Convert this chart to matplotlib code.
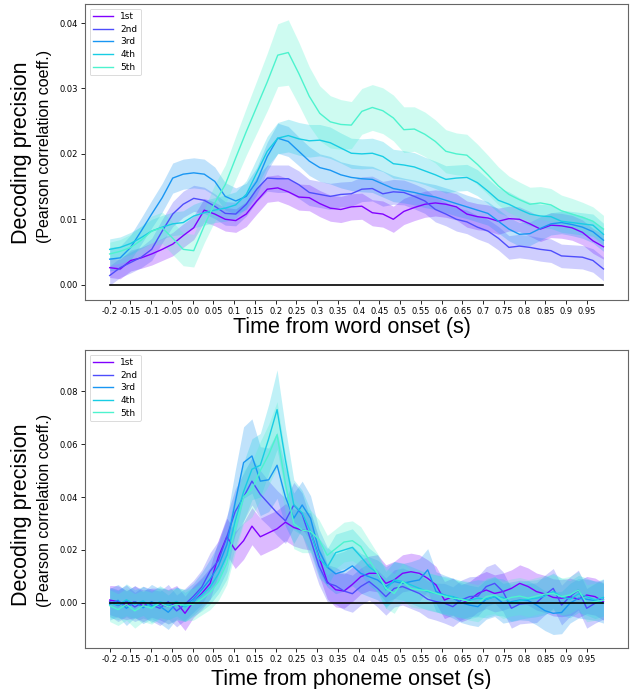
import numpy as np
import matplotlib.pyplot as plt

# condition labels and colours (rainbow colormap, first 40 %)
labels = ['1st', '2nd', '3rd', '4th', '5th']
colors = [plt.cm.rainbow(v) for v in [0.0, 0.1, 0.2, 0.3, 0.4]]

# ---- word onset panel (values x 1e-3), 48 samples from -0.2 to 0.99 s
word_mean = [
    [2.6, 2.4, 3.7, 4.1, 4.7, 5.4, 6.2, 7.5, 8.7, 11.4, 10.8, 10.0, 9.8, 10.8, 12.8, 14.6,
     14.8, 14.2, 13.4, 13.3, 12.4, 11.7, 11.5, 11.9, 12.0, 11.0, 10.8, 10.0, 11.2, 11.8, 12.3, 12.5,
     12.3, 11.9, 10.8, 10.4, 10.2, 9.7, 10.1, 10.0, 9.3, 8.5, 9.1, 9.0, 8.7, 8.0, 6.7, 5.8],
    [1.4, 2.6, 3.4, 4.2, 5.4, 8.2, 10.8, 12.3, 13.2, 12.9, 12.0, 10.9, 10.8, 12.3, 14.6, 16.3,
     16.2, 16.2, 15.3, 14.1, 13.8, 13.5, 13.8, 13.9, 14.6, 14.7, 13.9, 14.2, 14.1, 13.5, 12.8, 11.5,
     10.8, 10.0, 9.6, 8.8, 8.2, 7.1, 5.7, 5.9, 5.7, 5.4, 5.2, 4.4, 4.3, 4.2, 3.7, 2.4],
    [3.9, 4.1, 5.7, 8.2, 10.8, 13.3, 16.3, 16.9, 17.1, 16.9, 15.8, 13.5, 12.8, 13.5, 15.8, 19.6,
     22.4, 21.9, 20.4, 18.9, 17.9, 17.5, 16.8, 16.4, 16.2, 16.1, 15.4, 14.7, 14.4, 14.1, 13.7, 13.4,
     12.9, 12.4, 11.9, 11.4, 10.9, 9.7, 8.5, 7.7, 7.8, 8.6, 9.3, 9.5, 9.2, 8.8, 8.1, 6.8],
    [5.4, 5.7, 6.3, 7.2, 8.2, 8.8, 9.3, 9.5, 10.5, 11.0, 11.4, 11.7, 12.2, 13.8, 17.1, 20.4,
     22.4, 22.8, 22.3, 22.0, 22.1, 21.7, 20.9, 20.1, 20.0, 20.1, 19.6, 18.5, 18.3, 18.0, 17.4, 16.8,
     16.1, 16.3, 16.4, 15.6, 14.3, 12.9, 12.3, 11.5, 10.8, 10.5, 10.4, 9.7, 9.5, 9.3, 9.1, 7.7],
    [4.7, 5.1, 5.7, 6.8, 8.2, 8.7, 7.1, 5.4, 5.2, 9.0, 12.5, 15.3, 19.4, 23.4, 27.2, 31.0,
     35.1, 35.5, 32.3, 28.8, 26.2, 24.9, 24.5, 24.4, 26.5, 27.1, 26.6, 25.5, 23.7, 23.8, 23.0, 21.9,
     20.4, 20.0, 19.8, 18.4, 16.8, 15.1, 13.8, 13.0, 12.3, 12.5, 12.2, 11.3, 10.8, 10.3, 9.7, 8.5],
]
word_sem = [
    [1.5, 1.5, 1.6, 1.6, 1.7, 1.7, 1.8, 1.8, 1.8, 1.8, 1.8, 1.8, 1.8, 1.9, 2.0, 2.0,
     2.0, 2.0, 2.0, 2.0, 2.0, 2.0, 2.0, 2.0, 2.0, 2.0, 2.0, 2.0, 2.0, 2.0, 2.0, 2.0,
     2.0, 2.0, 2.0, 2.0, 2.0, 2.0, 1.9, 1.9, 1.9, 1.9, 1.9, 1.9, 1.9, 1.9, 1.9, 1.9],
    [1.5, 1.5, 1.6, 1.6, 1.7, 1.8, 1.9, 2.0, 2.0, 2.0, 1.9, 1.8, 1.8, 1.8, 1.9, 2.0,
     2.1, 2.1, 2.1, 2.0, 2.0, 2.0, 1.9, 1.9, 1.9, 1.9, 1.9, 1.9, 1.9, 1.9, 1.9, 1.9,
     1.8, 1.8, 1.8, 1.8, 1.8, 1.8, 1.8, 1.8, 1.8, 1.8, 1.8, 1.8, 1.8, 1.8, 1.8, 1.8],
    [1.8, 1.8, 1.9, 2.0, 2.1, 2.2, 2.3, 2.3, 2.3, 2.3, 2.2, 2.1, 2.0, 2.0, 2.1, 2.2,
     2.3, 2.3, 2.2, 2.2, 2.1, 2.1, 2.0, 2.0, 2.0, 2.0, 2.0, 2.0, 1.9, 1.9, 1.9, 1.9,
     1.9, 1.9, 1.8, 1.8, 1.8, 1.8, 1.8, 1.8, 1.8, 1.8, 1.7, 1.7, 1.7, 1.7, 1.7, 1.7],
    [1.6, 1.6, 1.7, 1.7, 1.8, 1.8, 1.8, 1.8, 1.8, 1.9, 1.9, 2.0, 2.0, 2.1, 2.2, 2.3,
     2.4, 2.5, 2.5, 2.5, 2.4, 2.4, 2.3, 2.3, 2.3, 2.3, 2.3, 2.2, 2.2, 2.2, 2.1, 2.1,
     2.1, 2.0, 2.0, 2.0, 1.9, 1.9, 1.9, 1.8, 1.8, 1.8, 1.8, 1.7, 1.7, 1.7, 1.7, 1.7],
    [1.8, 1.8, 2.0, 2.2, 2.3, 2.4, 2.5, 2.5, 2.5, 2.6, 2.8, 3.0, 3.3, 3.6, 4.0, 4.4,
     4.8, 5.0, 4.8, 4.5, 4.2, 4.0, 3.8, 3.6, 3.5, 3.5, 3.5, 3.5, 3.5, 3.4, 3.4, 3.3,
     3.3, 3.2, 3.2, 3.1, 3.0, 2.9, 2.8, 2.7, 2.6, 2.5, 2.5, 2.4, 2.4, 2.3, 2.2, 2.1],
]

# ---- phoneme onset panel (values x 1e-3), 60 samples from -0.2 to 0.99 s
phon_mean = [
    [1.1, 0.5, -0.8, 0.5, -1.1, 0.1, -0.4, -1.4, 0.1, -3.9,
     0.5, 3.6, 7.4, 17.5, 25.0, 20.0, 23.5, 29.0, 25.0, 26.5,
     28.0, 30.5, 28.5, 27.5, 27.0, 17.5, 8.0, 5.0, 4.5, 7.0,
     9.9, 11.2, 11.2, 7.4, 8.7, 11.2, 11.8, 11.2, 9.3, 6.8,
     1.1, 2.4, -0.1, 1.1, 3.6, 4.9, 3.6, 4.3, 5.5, 7.4,
     6.2, 4.3, 3.4, 2.1, 1.8, 2.4, 1.4, 3.0, 2.4, 0.5],
    [0.5, -1.0, 0.8, -1.5, 0.3, -0.8, -2.0, 0.5, -3.0, -0.5,
     2.5, 6.0, 12.0, 16.0, 25.0, 34.5, 40.0, 46.0, 41.0, 37.5,
     34.0, 31.0, 37.0, 33.5, 24.0, 14.0, 7.5, 6.5, 4.5, 3.5,
     6.2, 8.1, 5.5, 2.4, 5.5, 6.2, 4.9, 3.6, 1.4, 0.5,
     -0.1, -1.4, 1.1, 2.4, 2.6, 6.2, 7.4, 4.3, -2.0, -0.4,
     -0.1, 0.1, 3.0, 5.5, -0.8, 2.4, 4.9, -2.0, -0.1, 1.4],
    [-0.5, 1.0, -2.0, 0.5, -1.8, 0.5, -1.2, -3.5, 0.0, -1.0,
     1.5, 5.0, 9.0, 14.0, 22.0, 38.0, 53.0, 55.5, 46.0, 46.5,
     52.0, 40.0, 32.0, 37.0, 32.0, 20.0, 13.5, 11.0, 12.0, 14.0,
     11.2, 9.9, 8.7, 6.2, 8.1, 7.4, 8.1, 8.7, 12.5, 4.3,
     3.0, 1.8, 0.1, -0.8, -1.4, 1.4, 2.4, -0.1, 0.5, 1.1,
     0.9, -0.8, -2.9, -3.9, -3.6, -0.1, 1.8, 1.4, 0.9, -0.1],
    [0.0, -0.8, 1.2, -0.5, 0.8, -1.5, 0.5, -0.8, 0.6, -1.5,
     0.5, 3.0, 6.0, 11.0, 18.0, 31.0, 42.0, 50.5, 52.0, 62.0,
     73.0, 54.0, 37.0, 34.0, 27.0, 17.0, 13.5, 19.0, 20.0, 21.0,
     17.5, 13.7, 11.2, 4.9, 8.7, 8.1, 6.8, 5.5, 4.3, 3.6,
     3.0, 2.4, 1.4, 1.1, 1.8, 1.4, 2.4, 2.1, 0.1, 0.9,
     1.4, 1.8, 2.6, 4.3, 2.4, 1.4, 3.4, 2.4, 1.1, 2.1],
    [-1.0, -2.5, -0.5, -3.0, -1.0, -2.0, 0.0, -1.5, -0.5, -0.8,
     -0.5, 1.5, 4.0, 8.0, 15.0, 28.0, 40.0, 43.0, 50.0, 56.0,
     63.5, 45.0, 30.0, 27.5, 27.0, 24.0, 18.0, 20.5, 23.0, 23.5,
     21.3, 16.2, 11.2, 5.5, 3.6, 8.1, 5.5, 4.9, 4.7, 3.6,
     2.6, 1.8, 1.4, 0.5, -0.1, 2.4, 3.0, 1.1, 2.1, 2.6,
     1.8, 2.6, 3.4, 3.6, 2.4, 3.0, 4.9, -0.1, 0.5, 1.1],
]
phon_sem = [
    [5.5, 6.0, 5.5, 6.0, 6.0, 5.5, 6.0, 6.5, 6.5, 6.5,
     6.0, 6.0, 6.0, 6.5, 7.0, 7.0, 7.0, 7.0, 7.0, 7.0,
     7.0, 7.0, 7.0, 7.0, 7.0, 7.0, 6.5, 6.5, 6.5, 6.5,
     6.5, 6.5, 7.0, 7.0, 7.0, 7.0, 7.0, 7.0, 7.0, 7.0,
     7.0, 7.0, 7.0, 7.0, 7.0, 7.0, 7.0, 7.0, 7.0, 7.0,
     7.0, 7.0, 7.0, 7.0, 7.0, 7.0, 7.0, 7.0, 7.0, 7.0],
    [5.5, 6.0, 6.0, 5.5, 6.0, 6.0, 6.5, 6.5, 6.0, 6.0,
     6.0, 6.5, 7.0, 7.5, 8.0, 8.5, 9.0, 9.0, 9.0, 8.5,
     8.5, 8.5, 8.5, 8.0, 7.5, 7.0, 7.0, 7.0, 7.0, 7.0,
     7.0, 7.0, 7.0, 7.0, 7.0, 7.0, 7.0, 7.0, 7.0, 7.0,
     7.5, 7.5, 7.5, 7.5, 7.5, 7.5, 7.5, 7.5, 7.5, 7.5,
     7.5, 7.5, 7.5, 7.5, 7.5, 7.5, 7.5, 7.5, 7.5, 7.5],
    [6.0, 6.0, 6.5, 6.0, 6.0, 6.5, 6.5, 6.5, 6.0, 6.0,
     6.0, 6.5, 7.5, 8.5, 10.0, 12.0, 13.5, 14.0, 13.0, 12.0,
     12.5, 11.0, 9.5, 9.0, 8.5, 8.0, 7.5, 7.5, 7.5, 7.5,
     7.5, 7.5, 7.5, 7.5, 7.5, 7.5, 7.5, 8.0, 8.0, 7.5,
     7.5, 7.5, 7.5, 7.5, 7.5, 7.5, 7.5, 7.5, 7.5, 7.5,
     7.5, 7.5, 7.5, 8.0, 8.0, 7.5, 7.5, 7.5, 7.5, 7.5],
    [5.5, 5.5, 6.0, 5.5, 5.5, 6.0, 6.0, 5.5, 5.5, 5.5,
     5.5, 6.0, 6.5, 7.5, 9.0, 10.0, 11.0, 11.5, 12.0, 13.0,
     15.0, 12.0, 9.5, 8.5, 8.0, 7.5, 7.0, 7.0, 7.0, 7.0,
     7.0, 7.0, 7.0, 7.0, 7.0, 7.0, 7.0, 7.0, 7.0, 7.0,
     7.0, 7.0, 7.0, 7.0, 7.0, 7.0, 7.0, 7.0, 7.0, 7.0,
     7.0, 7.0, 7.0, 7.0, 7.0, 7.0, 7.0, 7.0, 7.0, 7.0],
    [6.0, 6.0, 6.0, 6.5, 6.0, 6.0, 6.0, 6.5, 6.0, 6.0,
     6.0, 6.0, 6.5, 7.0, 8.0, 9.0, 10.0, 10.5, 11.0, 11.5,
     12.5, 11.0, 9.5, 8.5, 8.0, 7.5, 7.5, 7.5, 7.5, 7.5,
     7.5, 7.5, 7.5, 7.5, 7.5, 7.0, 7.0, 7.0, 7.0, 7.0,
     7.0, 7.0, 7.0, 7.0, 7.0, 7.0, 7.0, 7.0, 7.0, 7.0,
     7.0, 7.0, 7.0, 7.0, 7.0, 7.0, 7.0, 7.0, 7.0, 7.0],
]

tick_pos = [-0.2, -0.15, -0.1, -0.05, 0.0, 0.05, 0.1, 0.15, 0.2, 0.25, 0.3, 0.35,
            0.4, 0.45, 0.5, 0.55, 0.6, 0.65, 0.7, 0.75, 0.8, 0.85, 0.9, 0.95]
tick_lab = ['-0.2', '-0.15', '-0.1', '-0.05', '0.0', '0.05', '0.1', '0.15', '0.2', '0.25',
            '0.3', '0.35', '0.4', '0.45', '0.5', '0.55', '0.6', '0.65', '0.7', '0.75',
            '0.8', '0.85', '0.9', '0.95']

big_font = ['Liberation Sans', 'DejaVu Sans']


def draw_panel(ax, means, sems, ylim, yticks):
    n = len(means[0])
    t = np.linspace(-0.2, 0.99, n)
    for m, s, c, lab in zip(means, sems, colors, labels):
        m = np.array(m) / 1000
        s = np.array(s) / 1000
        ax.fill_between(t, m - s, m + s, color=c, alpha=0.27, lw=0)
        ax.plot(t, m, color=c, lw=1.0, label=lab)
    ax.plot(t, np.zeros(n), color='black', lw=1.2, zorder=5)
    ax.set_ylim(*ylim)
    ax.set_yticks(yticks)
    ax.set_yticklabels(['%.2f' % v for v in yticks])
    ax.set_xticks(tick_pos)
    ax.set_xticklabels(tick_lab)
    ax.tick_params(labelsize=6, length=3, width=0.6, pad=2)
    for sp in ax.spines.values():
        sp.set_color('#666666')
        sp.set_linewidth(0.8)
    leg = ax.legend(loc='upper left', fontsize=6.5, handlelength=2.2,
                    borderpad=0.4, labelspacing=0.4)
    leg.get_frame().set_linewidth(0.6)


fig = plt.figure(figsize=(6.39, 6.89), dpi=100)

ax1 = fig.add_axes([0.133, 0.565, 0.850, 0.429])
draw_panel(ax1, word_mean, word_sem, (-0.0023, 0.0429),
           [0.0, 0.01, 0.02, 0.03, 0.04])

ax2 = fig.add_axes([0.133, 0.0595, 0.850, 0.4325])
draw_panel(ax2, phon_mean, phon_sem, (-0.017, 0.0955),
           [0.0, 0.02, 0.04, 0.06, 0.08])

# large annotation labels
fig.text(0.550, 1 - 328 / 689, 'Time from word onset (s)', ha='center', va='center',
         fontsize=15.5, family=big_font)
fig.text(0.550, 1 - 679 / 689, 'Time from phoneme onset (s)', ha='center', va='center',
         fontsize=15.5, family=big_font)
for y1, y2 in [(153, 146), (515, 510)]:
    fig.text(22 / 639, 1 - y1 / 689, 'Decoding precision', rotation=90, ha='center',
             va='center', fontsize=15.5, family=big_font)
    fig.text(45 / 639, 1 - y2 / 689, '(Pearson correlation coeff.)', rotation=90,
             ha='center', va='center', fontsize=11.5, family=big_font)

fig.savefig('out.png', dpi=100)
